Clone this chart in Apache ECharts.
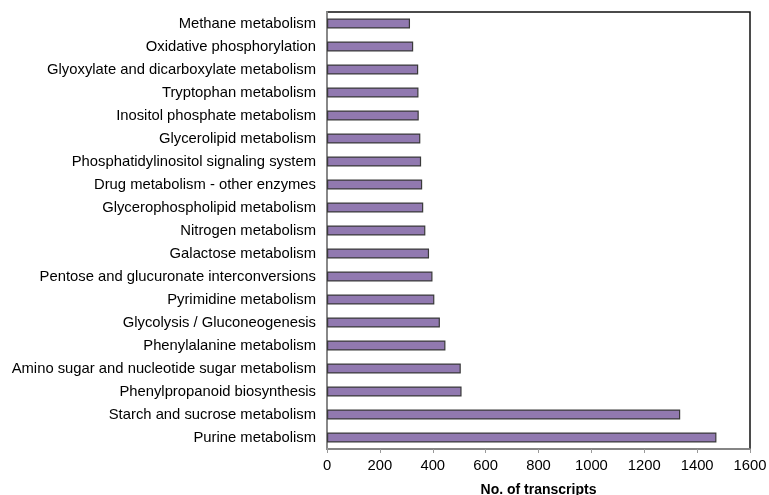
<!DOCTYPE html>
<html><head><meta charset="utf-8">
<script src="https://cdn.jsdelivr.net/npm/echarts@6/dist/echarts.min.js"></script>
<style>html,body{margin:0;padding:0;background:#fff}#c{width:769px;height:495px}</style>
</head><body><div id="c"></div>
<script>
const categories = ["Methane metabolism","Oxidative phosphorylation","Glyoxylate and dicarboxylate metabolism","Tryptophan metabolism","Inositol phosphate metabolism","Glycerolipid metabolism","Phosphatidylinositol signaling system","Drug metabolism - other enzymes","Glycerophospholipid metabolism","Nitrogen metabolism","Galactose metabolism","Pentose and glucuronate interconversions","Pyrimidine metabolism","Glycolysis / Gluconeogenesis","Phenylalanine metabolism","Amino sugar and nucleotide sugar metabolism","Phenylpropanoid biosynthesis","Starch and sucrose metabolism","Purine metabolism"];
const transcripts = [314,326,345,346,347,353,356,360,364,372,386,399,406,427,448,506,509,1336,1473];
const xTicks = [0,200,400,600,800,1000,1200,1400,1600];

const chart = echarts.init(document.getElementById('c'));
chart.setOption({
  animation:false,
  grid:{left:327,top:12,width:423,height:437,outerBoundsMode:'none',containLabel:false,show:true,borderColor:'#111',borderWidth:1.5,backgroundColor:'transparent'},
  xAxis:{type:'value',min:xTicks[0],max:xTicks[xTicks.length-1],interval:200,
    name:'No. of transcripts',nameLocation:'middle',nameGap:34,
    nameTextStyle:{fontFamily:'Liberation Sans',fontSize:14,fontWeight:'bold',color:'#000'},
    axisLine:{show:true,lineStyle:{color:'#999',width:1.5}},
    axisTick:{show:true,length:4,lineStyle:{color:'#999'}},
    axisLabel:{fontFamily:'Liberation Sans',fontSize:14.8,color:'#000',margin:9,formatter:v=>String(v)},
    splitLine:{show:false}},
  yAxis:{type:'category',data:categories,inverse:true,
    axisLine:{show:true,lineStyle:{color:'#888',width:2}},
    axisTick:{show:false},
    axisLabel:{fontFamily:'Liberation Sans',fontSize:14.8,color:'#000',margin:11}},
  series:[{type:'bar',data:transcripts,barWidth:10,
    itemStyle:{color:'#9179b0',borderColor:'#3a3a3a',borderWidth:1.2}}]
});
</script></body></html>
